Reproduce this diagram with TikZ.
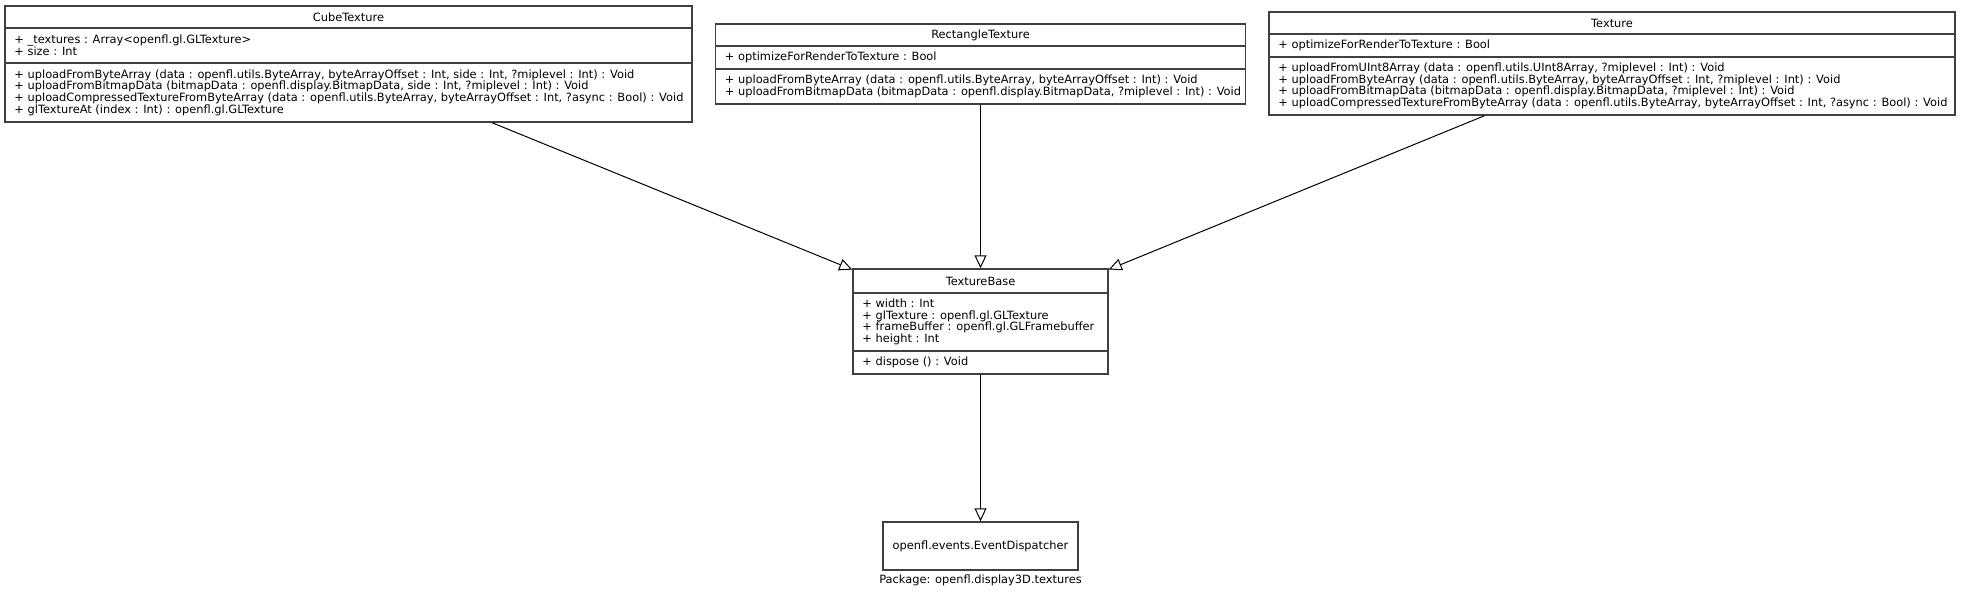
\documentclass[tikz,border=0pt]{standalone}
\usepackage{fontspec}
\setmainfont{DejaVu Sans}
\usetikzlibrary{arrows.meta}

\tikzset{
  umlclass/.style={draw=black!75, line width=1.5pt, fill=white, inner sep=0pt},
  classname/.style={inner sep=0pt, font=\fontsize{11.4}{11.7}\selectfont},
  member/.style={anchor=west, align=left, inner xsep=10pt, inner ysep=0pt, font=\fontsize{11.4}{11.7}\selectfont},
  divider/.style={draw=black!75, line width=1.5pt},
  extends/.style={-{Triangle[open, length=13pt, width=12pt]}, line width=1pt},
}

\begin{document}
\begin{tikzpicture}[x=1pt, y=-1pt]
      \useasboundingbox (0,0) rectangle (1961,599);

      % CubeTexture
      \node[umlclass, minimum width=687pt, minimum height=116pt] (cube) at (348.5,64) {};
      \node[classname] (cubename) at (348.5,17) {CubeTexture};
      \draw[divider] (cube.west |- 0,28) -- (cube.east |- 0,28);
      \draw[divider] (cube.west |- 0,63) -- (cube.east |- 0,63);
      \node[member] (cubeattr) at (cube.west |- 0,45.5) {+ \_textures : Array<openfl.gl.GLTexture>\\+ size : Int};
      \node[member] (cubeops) at (cube.west |- 0,92.5) {+ uploadFromByteArray (data : openfl.utils.ByteArray, byteArrayOffset : Int, side : Int, ?miplevel : Int) : Void\\+ uploadFromBitmapData (bitmapData : openfl.display.BitmapData, side : Int, ?miplevel : Int) : Void\\+ uploadCompressedTextureFromByteArray (data : openfl.utils.ByteArray, byteArrayOffset : Int, ?async : Bool) : Void\\+ glTextureAt (index : Int) : openfl.gl.GLTexture};

      % RectangleTexture
      \node[umlclass, minimum width=530pt, minimum height=80pt] (rect) at (980.5,64) {};
      \node[classname] (rectname) at (980.5,35) {RectangleTexture};
      \draw[divider] (rect.west |- 0,46) -- (rect.east |- 0,46);
      \draw[divider] (rect.west |- 0,69) -- (rect.east |- 0,69);
      \node[member] (rectattr) at (rect.west |- 0,57.5) {+ optimizeForRenderToTexture : Bool};
      \node[member] (rectops) at (rect.west |- 0,86.5) {+ uploadFromByteArray (data : openfl.utils.ByteArray, byteArrayOffset : Int) : Void\\+ uploadFromBitmapData (bitmapData : openfl.display.BitmapData, ?miplevel : Int) : Void};

      % Texture
      \node[umlclass, minimum width=686pt, minimum height=103pt] (tex) at (1612,63.5) {};
      \node[classname] (texname) at (1612,23) {Texture};
      \draw[divider] (tex.west |- 0,34) -- (tex.east |- 0,34);
      \draw[divider] (tex.west |- 0,57) -- (tex.east |- 0,57);
      \node[member] (texattr) at (tex.west |- 0,45.5) {+ optimizeForRenderToTexture : Bool};
      \node[member] (texops) at (tex.west |- 0,86) {+ uploadFromUInt8Array (data : openfl.utils.UInt8Array, ?miplevel : Int) : Void\\+ uploadFromByteArray (data : openfl.utils.ByteArray, byteArrayOffset : Int, ?miplevel : Int) : Void\\+ uploadFromBitmapData (bitmapData : openfl.display.BitmapData, ?miplevel : Int) : Void\\+ uploadCompressedTextureFromByteArray (data : openfl.utils.ByteArray, byteArrayOffset : Int, ?async : Bool) : Void};

      % TextureBase
      \node[umlclass, minimum width=255pt, minimum height=105pt] (base) at (980.5,321.5) {};
      \node[classname] (basename) at (980.5,281) {TextureBase};
      \draw[divider] (base.west |- 0,293) -- (base.east |- 0,293);
      \draw[divider] (base.west |- 0,351) -- (base.east |- 0,351);
      \node[member] (baseattr) at (base.west |- 0,322) {+ width : Int\\+ glTexture : openfl.gl.GLTexture\\+ frameBuffer : openfl.gl.GLFramebuffer\\+ height : Int};
      \node[member] (baseops) at (base.west |- 0,362.5) {+ dispose () : Void};

      % EventDispatcher
      \node[umlclass, minimum width=195pt, minimum height=48pt, font=\fontsize{11.4}{11.7}\selectfont] (disp) at (980.5,546) {openfl.events.EventDispatcher};
      \node[classname] (pkg) at (980.5,580) {Package: openfl.display3D.textures};

      \draw[extends] (cube) -- (base);
      \draw[extends] (rect) -- (base);
      \draw[extends] (tex) -- (base);
      \draw[extends] (base) -- (disp);
    \end{tikzpicture}
\end{document}
